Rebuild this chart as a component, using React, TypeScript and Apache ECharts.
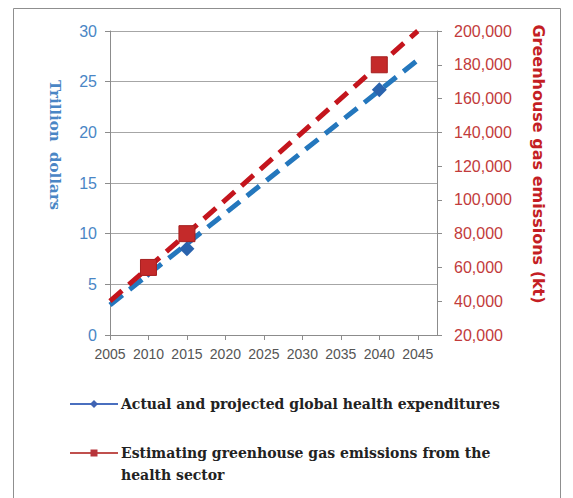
import React, { useEffect, useRef } from "react";
import * as echarts from "echarts";

// ---- data ----
const years = [2010, 2015, 2040];
const healthExpenditure = [6.4, 8.5, 24.2]; // trillion dollars
const ghgEmissions = [60000, 80000, 180000]; // kt
const trendFrom = 2005;
const trendTo = 2045;
const leftTitle = "Trillion  dollars";
const rightTitle = "Greenhouse gas emissions (kt)";
const legendLabels = [
  "Actual and projected global health expenditures",
  "Estimating greenhouse gas emissions from the\nhealth sector",
];

function linearFit(xs: number[], ys: number[]) {
  const n = xs.length;
  const mx = xs.reduce((a, b) => a + b, 0) / n;
  const my = ys.reduce((a, b) => a + b, 0) / n;
  let sxy = 0;
  let sxx = 0;
  for (let i = 0; i < n; i++) {
    sxy += (xs[i] - mx) * (ys[i] - my);
    sxx += (xs[i] - mx) * (xs[i] - mx);
  }
  const slope = sxy / sxx;
  return (x: number) => my + slope * (x - mx);
}

const BLUE_LINE = "#2477bd";
const BLUE_MARK = "#2a63ad";
const RED_LINE = "#c4151d";
const RED_MARK = "#c42a2a";

export default function App() {
  const ref = useRef<HTMLDivElement>(null);
  useEffect(() => {
    if (!ref.current) return;
    const chart = echarts.init(ref.current, undefined, { renderer: "svg" });
    const fBlue = linearFit(years, healthExpenditure);
    const fRed = linearFit(years, ghgEmissions);
    const sans = '"Liberation Sans", Arial, sans-serif';
    const wideSans = '"DejaVu Sans", "Liberation Sans", sans-serif';
    const serif = '"DejaVu Serif", "Liberation Serif", serif';
    chart.setOption({
      animation: false,
      backgroundColor: "#ffffff",
      grid: { left: 110, right: 136, top: 31, bottom: 163 },
      xAxis: {
        type: "value",
        min: 2005,
        max: 2047.5,
        interval: 5,
        axisLine: { show: true, lineStyle: { color: "#8c8c8c", width: 1 } },
        axisTick: { show: true, length: 5, lineStyle: { color: "#8c8c8c" } },
        splitLine: { show: false },
        axisLabel: {
          color: "#555555",
          fontFamily: sans,
          fontSize: 14,
          margin: 12,
          showMaxLabel: false,
          formatter: (v: number) => (v % 5 === 0 ? String(v) : ""),
        },
      },
      yAxis: [
        {
          type: "value",
          position: "left",
          min: 0,
          max: 30,
          interval: 5,
          axisLine: { show: true, lineStyle: { color: "#8c8c8c" } },
          axisTick: { show: true, length: 5, lineStyle: { color: "#8c8c8c" } },
          splitLine: { show: true, lineStyle: { color: "#a6a6a6", width: 1 } },
          axisLabel: {
            color: "#4a86c5",
            fontFamily: sans,
            fontSize: 16,
            margin: 13,
          },
        },
        {
          type: "value",
          position: "right",
          min: 20000,
          max: 200000,
          interval: 20000,
          axisLine: { show: true, lineStyle: { color: "#8c8c8c" } },
          axisTick: { show: true, length: 5, lineStyle: { color: "#8c8c8c" } },
          splitLine: { show: false },
          axisLabel: {
            color: "#c23b3b",
            fontFamily: sans,
            fontSize: 16,
            margin: 17,
            formatter: (v: number) => v.toLocaleString("en-US"),
          },
        },
      ],
      series: [
        {
          name: "Trend " + legendLabels[0],
          type: "line",
          yAxisIndex: 0,
          symbol: "none",
          silent: true,
          lineStyle: { color: BLUE_LINE, width: 5, type: [16, 9] },
          data: [
            [trendFrom, fBlue(trendFrom)],
            [trendTo, fBlue(trendTo)],
          ],
          z: 2,
        },
        {
          name: "Trend " + legendLabels[1],
          type: "line",
          yAxisIndex: 1,
          symbol: "none",
          silent: true,
          lineStyle: { color: RED_LINE, width: 5, type: [16, 9] },
          data: [
            [trendFrom, fRed(trendFrom)],
            [trendTo, fRed(trendTo)],
          ],
          z: 2,
        },
        {
          name: legendLabels[0],
          type: "scatter",
          yAxisIndex: 0,
          symbol: "diamond",
          symbolSize: 15,
          itemStyle: { color: BLUE_MARK, opacity: 1 },
          data: years.map((y, i) => [y, healthExpenditure[i]]),
          z: 3,
        },
        {
          name: legendLabels[1],
          type: "scatter",
          yAxisIndex: 1,
          symbol: "rect",
          symbolSize: 16,
          itemStyle: { color: RED_MARK, borderColor: "#a51f1f", borderWidth: 1, opacity: 1 },
          data: years.map((y, i) => [y, ghgEmissions[i]]),
          z: 4,
        },
      ],
      graphic: [
        {
          type: "rect",
          shape: { x: 13.5, y: 8.5, width: 547, height: 500 },
          style: { fill: "none", stroke: "#8f8f8f", lineWidth: 1 },
          silent: true,
          z: -1,
        },
        {
          type: "text",
          x: 55,
          y: 145,
          rotation: -Math.PI / 2,
          style: {
            text: leftTitle,
            fill: "#4a86c5",
            font: `bold 15px ${serif}`,
            align: "center",
            verticalAlign: "middle",
          },
        },
        {
          type: "text",
          x: 538,
          y: 164,
          rotation: -Math.PI / 2,
          style: {
            text: rightTitle,
            fill: "#c41e24",
            font: `bold 16px ${wideSans}`,
            align: "center",
            verticalAlign: "middle",
          },
        },
        // legend item 1
        {
          type: "line",
          shape: { x1: 70, y1: 404, x2: 118, y2: 404 },
          style: { stroke: "#4a6fbf", lineWidth: 2 },
        },
        {
          type: "polygon",
          shape: { points: [[94, 400], [98, 404], [94, 408], [90, 404]] },
          style: { fill: "#3f63b3" },
        },
        {
          type: "text",
          x: 121,
          y: 404,
          style: {
            text: legendLabels[0],
            fill: "#222222",
            font: `bold 14px ${serif}`,
            verticalAlign: "middle",
          },
        },
        // legend item 2
        {
          type: "line",
          shape: { x1: 70, y1: 453, x2: 118, y2: 453 },
          style: { stroke: "#c0504d", lineWidth: 2 },
        },
        {
          type: "rect",
          shape: { x: 90.5, y: 449.5, width: 7, height: 7 },
          style: { fill: "#b7343a" },
        },
        {
          type: "text",
          x: 121,
          y: 442,
          style: {
            text: legendLabels[1],
            fill: "#222222",
            font: `bold 14px ${serif}`,
            lineHeight: 22,
            verticalAlign: "top",
          },
        },
      ],
    });
    return () => chart.dispose();
  }, []);
  return (
    <div
      ref={ref}
      style={{ position: "fixed", left: 0, top: 0, width: 573, height: 498 }}
    />
  );
}
